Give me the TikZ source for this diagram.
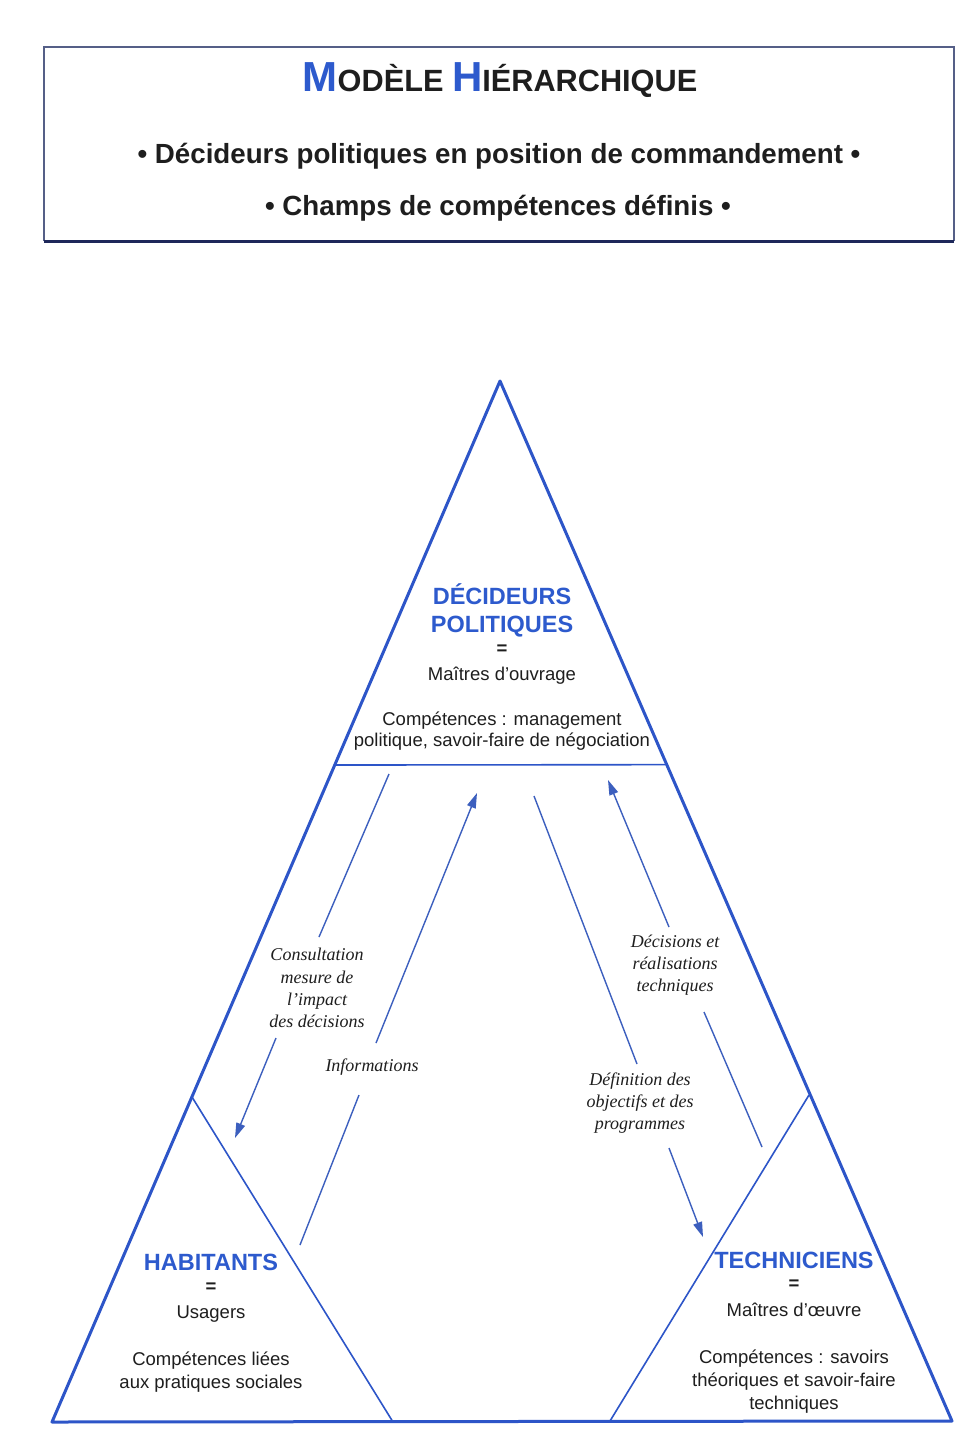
\documentclass[tikz,border=0pt]{standalone}
\usepackage{fontspec}
\setmainfont{Liberation Sans}
\newfontfamily\serifit{Liberation Serif}
\usetikzlibrary{arrows.meta,calc}
\definecolor{lineblue}{RGB}{45,85,200}
\definecolor{arrowblue}{RGB}{60,95,190}
\definecolor{headblue}{RGB}{45,90,205}
\definecolor{boxline}{RGB}{85,95,135}
\definecolor{boxdark}{RGB}{30,40,90}
\definecolor{ink}{RGB}{30,30,30}
\begin{document}
\begin{tikzpicture}[x=1pt,y=-1pt,
  bodytxt/.style={anchor=base,inner sep=0,text=ink,font=\fontsize{18.5}{22}\selectfont},
  headtxt/.style={anchor=base,inner sep=0,text=headblue,font=\fontsize{23.5}{28}\selectfont\bfseries},
  eqtxt/.style={anchor=center,inner sep=0,text=ink,font=\fontsize{18.5}{22}\selectfont\bfseries},
  titletxt/.style={anchor=base,inner sep=0,text=ink,font=\fontsize{27.7}{32}\selectfont\bfseries},
  labeltxt/.style={anchor=center,inner sep=0,align=center,text=ink,font=\fontsize{18}{22.3}\selectfont\serifit\itshape},
  outerline/.style={draw=lineblue,line width=3pt,line join=round},
  innerline/.style={draw=lineblue,line width=1.6pt},
  arrowline/.style={draw=arrowblue,line width=1.4pt},
  arrowtip/.style={arrowline,-{Triangle[length=15pt,width=9pt]}}
]
\useasboundingbox[fill=white] (0,0) rectangle (979,1450);

% ---------- title box ----------
\coordinate (tbl) at (44,241);
\coordinate (ttl) at (44,47);
\coordinate (ttr) at (954,47);
\coordinate (tbr) at (954,241);
\draw[boxline,line width=1.3pt] (tbl) -- (ttl) -- (ttr) -- (tbr);
\draw[boxdark,line width=3pt] (tbl) -- (tbr);

\node[titletxt] (title) at (500,92) {\textcolor{headblue}{\fontsize{42}{42}\selectfont M}\fontsize{30.7}{32}\selectfont ODÈLE \textcolor{headblue}{\fontsize{42}{42}\selectfont H}IÉRARCHIQUE};
\node[titletxt] (sub1) at (499,164) {• Décideurs politiques en position de commandement •};
\node[titletxt] (sub2) at (498,215) {• Champs de compétences définis •};

% ---------- pyramid ----------
\coordinate (A) at (500,381);
\coordinate (BL) at (52,1422);
\coordinate (BR) at (952,1421);
\coordinate (H1) at ($(A)!0.3689!(BL)$);
\coordinate (H2) at ($(A)!0.3689!(BR)$);
\coordinate (LA) at (192,1097);
\coordinate (LB) at (393,1422);
\coordinate (RA) at (809,1095);
\coordinate (RB) at (610,1421);

\draw[innerline] (H1) -- (H2);
\draw[innerline] (LA) -- (LB);
\draw[innerline] (RA) -- (RB);
\draw[outerline] (A) -- (BL) -- (BR) -- cycle;

% ---------- top: décideurs ----------
\node[headtxt] (dech1) at (502,604) {DÉCIDEURS};
\node[headtxt] (dech2) at (502,632) {POLITIQUES};
\node[eqtxt]   (deceq) at (502,650) {=};
\node[bodytxt] (decname) at (502,680) {Maîtres d’ouvrage};
\node[bodytxt] (decc1) at (502,725) {Compétences : management};
\node[bodytxt] (decc2) at (502,746) {politique, savoir-faire de négociation};

% ---------- left: habitants ----------
\node[headtxt] (habh) at (211,1270) {HABITANTS};
\node[eqtxt]   (habeq) at (211,1288) {=};
\node[bodytxt] (habname) at (211,1318) {Usagers};
\node[bodytxt] (habc1) at (211,1365) {Compétences liées};
\node[bodytxt] (habc2) at (211,1388) {aux pratiques sociales};

% ---------- right: techniciens ----------
\node[headtxt] (tech) at (794,1268) {TECHNICIENS};
\node[eqtxt]   (techeq) at (794,1285) {=};
\node[bodytxt] (techname) at (794,1316) {Maîtres d’œuvre};
\node[bodytxt] (techc1) at (794,1363) {Compétences : savoirs};
\node[bodytxt] (techc2) at (794,1386) {théoriques et savoir-faire};
\node[bodytxt] (techc3) at (794,1409) {techniques};

% ---------- arrow labels ----------
\node[labeltxt] (consult) at (317,988) {Consultation\\mesure de\\l’impact\\des décisions};
\node[labeltxt] (inform) at (372,1067) {Informations};
\node[labeltxt] (decis) at (675,965) {Décisions et\\réalisations\\techniques};
\node[labeltxt] (defin) at (640,1103) {Définition des\\objectifs et des\\programmes};

% ---------- arrows ----------
\coordinate (c1) at (389,774);
\coordinate (c2) at (319,937);
\coordinate (c3) at (276,1038);
\coordinate (c4) at (235,1138);
\draw[arrowline] (c1) -- (c2);
\draw[arrowtip] (c3) -- (c4);

\coordinate (i1) at (300,1245);
\coordinate (i2) at (359,1095);
\coordinate (i3) at (376,1043);
\coordinate (i4) at (477,793);
\draw[arrowline] (i1) -- (i2);
\draw[arrowtip] (i3) -- (i4);

\coordinate (d1) at (534,796);
\coordinate (d2) at (637,1064);
\coordinate (d3) at (669,1148);
\coordinate (d4) at (703,1237);
\draw[arrowline] (d1) -- (d2);
\draw[arrowtip] (d3) -- (d4);

\coordinate (e1) at (762,1147);
\coordinate (e2) at (704,1012);
\coordinate (e3) at (669,927);
\coordinate (e4) at (608,780);
\draw[arrowline] (e1) -- (e2);
\draw[arrowtip] (e3) -- (e4);
\end{tikzpicture}
\end{document}
